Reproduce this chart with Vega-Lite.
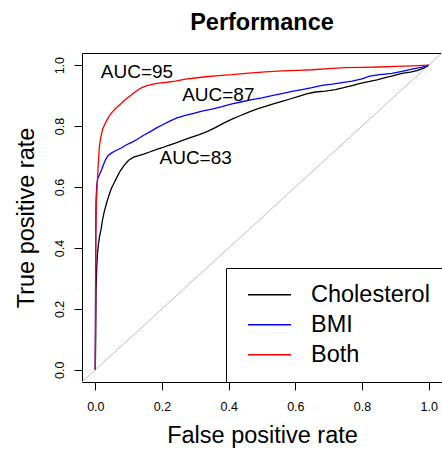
{
  "$schema": "https://vega.github.io/schema/vega-lite/v6.json",
  "width": 360,
  "height": 329,
  "autosize": {"type": "none"},
  "padding": {"left": 82, "top": 53, "right": 0, "bottom": 68},
  "background": "white",
  "title": {"text": "Performance", "fontSize": 23.5, "font": "Liberation Sans", "fontWeight": "bold", "baseline": "alphabetic", "offset": 0, "anchor": "middle", "color": "black"},
  "config": {"view": {"stroke": "black", "strokeWidth": 1}},
  "datasets": {
    "roc": [
      {"fpr": 0, "tpr": 0, "model": "Cholesterol"},
      {"fpr": 0.001, "tpr": 0.13, "model": "Cholesterol"},
      {"fpr": 0.002, "tpr": 0.26, "model": "Cholesterol"},
      {"fpr": 0.004, "tpr": 0.33, "model": "Cholesterol"},
      {"fpr": 0.006, "tpr": 0.375, "model": "Cholesterol"},
      {"fpr": 0.009, "tpr": 0.41, "model": "Cholesterol"},
      {"fpr": 0.013, "tpr": 0.44, "model": "Cholesterol"},
      {"fpr": 0.017, "tpr": 0.46, "model": "Cholesterol"},
      {"fpr": 0.022, "tpr": 0.495, "model": "Cholesterol"},
      {"fpr": 0.027, "tpr": 0.52, "model": "Cholesterol"},
      {"fpr": 0.033, "tpr": 0.545, "model": "Cholesterol"},
      {"fpr": 0.04, "tpr": 0.57, "model": "Cholesterol"},
      {"fpr": 0.048, "tpr": 0.595, "model": "Cholesterol"},
      {"fpr": 0.057, "tpr": 0.615, "model": "Cholesterol"},
      {"fpr": 0.066, "tpr": 0.635, "model": "Cholesterol"},
      {"fpr": 0.076, "tpr": 0.655, "model": "Cholesterol"},
      {"fpr": 0.087, "tpr": 0.672, "model": "Cholesterol"},
      {"fpr": 0.1, "tpr": 0.688, "model": "Cholesterol"},
      {"fpr": 0.115, "tpr": 0.698, "model": "Cholesterol"},
      {"fpr": 0.13, "tpr": 0.703, "model": "Cholesterol"},
      {"fpr": 0.145, "tpr": 0.708, "model": "Cholesterol"},
      {"fpr": 0.163, "tpr": 0.715, "model": "Cholesterol"},
      {"fpr": 0.18, "tpr": 0.722, "model": "Cholesterol"},
      {"fpr": 0.2, "tpr": 0.729, "model": "Cholesterol"},
      {"fpr": 0.22, "tpr": 0.737, "model": "Cholesterol"},
      {"fpr": 0.24, "tpr": 0.744, "model": "Cholesterol"},
      {"fpr": 0.26, "tpr": 0.752, "model": "Cholesterol"},
      {"fpr": 0.285, "tpr": 0.762, "model": "Cholesterol"},
      {"fpr": 0.31, "tpr": 0.771, "model": "Cholesterol"},
      {"fpr": 0.335, "tpr": 0.782, "model": "Cholesterol"},
      {"fpr": 0.36, "tpr": 0.795, "model": "Cholesterol"},
      {"fpr": 0.385, "tpr": 0.81, "model": "Cholesterol"},
      {"fpr": 0.41, "tpr": 0.823, "model": "Cholesterol"},
      {"fpr": 0.434, "tpr": 0.834, "model": "Cholesterol"},
      {"fpr": 0.46, "tpr": 0.846, "model": "Cholesterol"},
      {"fpr": 0.484, "tpr": 0.856, "model": "Cholesterol"},
      {"fpr": 0.51, "tpr": 0.865, "model": "Cholesterol"},
      {"fpr": 0.534, "tpr": 0.873, "model": "Cholesterol"},
      {"fpr": 0.56, "tpr": 0.881, "model": "Cholesterol"},
      {"fpr": 0.584, "tpr": 0.889, "model": "Cholesterol"},
      {"fpr": 0.61, "tpr": 0.898, "model": "Cholesterol"},
      {"fpr": 0.634, "tpr": 0.906, "model": "Cholesterol"},
      {"fpr": 0.66, "tpr": 0.912, "model": "Cholesterol"},
      {"fpr": 0.69, "tpr": 0.915, "model": "Cholesterol"},
      {"fpr": 0.72, "tpr": 0.92, "model": "Cholesterol"},
      {"fpr": 0.745, "tpr": 0.926, "model": "Cholesterol"},
      {"fpr": 0.77, "tpr": 0.933, "model": "Cholesterol"},
      {"fpr": 0.795, "tpr": 0.94, "model": "Cholesterol"},
      {"fpr": 0.82, "tpr": 0.946, "model": "Cholesterol"},
      {"fpr": 0.845, "tpr": 0.952, "model": "Cholesterol"},
      {"fpr": 0.87, "tpr": 0.959, "model": "Cholesterol"},
      {"fpr": 0.895, "tpr": 0.966, "model": "Cholesterol"},
      {"fpr": 0.92, "tpr": 0.973, "model": "Cholesterol"},
      {"fpr": 0.945, "tpr": 0.977, "model": "Cholesterol"},
      {"fpr": 0.965, "tpr": 0.982, "model": "Cholesterol"},
      {"fpr": 0.985, "tpr": 0.99, "model": "Cholesterol"},
      {"fpr": 1, "tpr": 1, "model": "Cholesterol"},
      {"fpr": 0, "tpr": 0, "model": "BMI"},
      {"fpr": 0.001, "tpr": 0.4, "model": "BMI"},
      {"fpr": 0.002, "tpr": 0.55, "model": "BMI"},
      {"fpr": 0.004, "tpr": 0.6, "model": "BMI"},
      {"fpr": 0.007, "tpr": 0.627, "model": "BMI"},
      {"fpr": 0.012, "tpr": 0.64, "model": "BMI"},
      {"fpr": 0.017, "tpr": 0.652, "model": "BMI"},
      {"fpr": 0.024, "tpr": 0.672, "model": "BMI"},
      {"fpr": 0.031, "tpr": 0.69, "model": "BMI"},
      {"fpr": 0.038, "tpr": 0.703, "model": "BMI"},
      {"fpr": 0.05, "tpr": 0.713, "model": "BMI"},
      {"fpr": 0.062, "tpr": 0.72, "model": "BMI"},
      {"fpr": 0.078, "tpr": 0.728, "model": "BMI"},
      {"fpr": 0.092, "tpr": 0.738, "model": "BMI"},
      {"fpr": 0.108, "tpr": 0.746, "model": "BMI"},
      {"fpr": 0.125, "tpr": 0.756, "model": "BMI"},
      {"fpr": 0.145, "tpr": 0.77, "model": "BMI"},
      {"fpr": 0.165, "tpr": 0.782, "model": "BMI"},
      {"fpr": 0.185, "tpr": 0.795, "model": "BMI"},
      {"fpr": 0.205, "tpr": 0.806, "model": "BMI"},
      {"fpr": 0.225, "tpr": 0.817, "model": "BMI"},
      {"fpr": 0.245, "tpr": 0.827, "model": "BMI"},
      {"fpr": 0.27, "tpr": 0.835, "model": "BMI"},
      {"fpr": 0.295, "tpr": 0.842, "model": "BMI"},
      {"fpr": 0.32, "tpr": 0.849, "model": "BMI"},
      {"fpr": 0.35, "tpr": 0.856, "model": "BMI"},
      {"fpr": 0.38, "tpr": 0.864, "model": "BMI"},
      {"fpr": 0.41, "tpr": 0.873, "model": "BMI"},
      {"fpr": 0.44, "tpr": 0.88, "model": "BMI"},
      {"fpr": 0.47, "tpr": 0.887, "model": "BMI"},
      {"fpr": 0.5, "tpr": 0.893, "model": "BMI"},
      {"fpr": 0.53, "tpr": 0.9, "model": "BMI"},
      {"fpr": 0.56, "tpr": 0.907, "model": "BMI"},
      {"fpr": 0.59, "tpr": 0.914, "model": "BMI"},
      {"fpr": 0.62, "tpr": 0.92, "model": "BMI"},
      {"fpr": 0.65, "tpr": 0.926, "model": "BMI"},
      {"fpr": 0.68, "tpr": 0.934, "model": "BMI"},
      {"fpr": 0.71, "tpr": 0.938, "model": "BMI"},
      {"fpr": 0.74, "tpr": 0.943, "model": "BMI"},
      {"fpr": 0.77, "tpr": 0.948, "model": "BMI"},
      {"fpr": 0.8, "tpr": 0.955, "model": "BMI"},
      {"fpr": 0.823, "tpr": 0.964, "model": "BMI"},
      {"fpr": 0.853, "tpr": 0.969, "model": "BMI"},
      {"fpr": 0.89, "tpr": 0.973, "model": "BMI"},
      {"fpr": 0.92, "tpr": 0.98, "model": "BMI"},
      {"fpr": 0.95, "tpr": 0.987, "model": "BMI"},
      {"fpr": 0.98, "tpr": 0.994, "model": "BMI"},
      {"fpr": 1, "tpr": 1, "model": "BMI"},
      {"fpr": 0, "tpr": 0, "model": "Both"},
      {"fpr": 0.0015, "tpr": 0.45, "model": "Both"},
      {"fpr": 0.003, "tpr": 0.55, "model": "Both"},
      {"fpr": 0.006, "tpr": 0.62, "model": "Both"},
      {"fpr": 0.009, "tpr": 0.68, "model": "Both"},
      {"fpr": 0.012, "tpr": 0.73, "model": "Both"},
      {"fpr": 0.016, "tpr": 0.762, "model": "Both"},
      {"fpr": 0.022, "tpr": 0.79, "model": "Both"},
      {"fpr": 0.03, "tpr": 0.81, "model": "Both"},
      {"fpr": 0.04, "tpr": 0.83, "model": "Both"},
      {"fpr": 0.05, "tpr": 0.845, "model": "Both"},
      {"fpr": 0.063, "tpr": 0.86, "model": "Both"},
      {"fpr": 0.075, "tpr": 0.872, "model": "Both"},
      {"fpr": 0.09, "tpr": 0.887, "model": "Both"},
      {"fpr": 0.105, "tpr": 0.9, "model": "Both"},
      {"fpr": 0.12, "tpr": 0.913, "model": "Both"},
      {"fpr": 0.135, "tpr": 0.924, "model": "Both"},
      {"fpr": 0.152, "tpr": 0.932, "model": "Both"},
      {"fpr": 0.17, "tpr": 0.937, "model": "Both"},
      {"fpr": 0.19, "tpr": 0.941, "model": "Both"},
      {"fpr": 0.215, "tpr": 0.944, "model": "Both"},
      {"fpr": 0.24, "tpr": 0.948, "model": "Both"},
      {"fpr": 0.27, "tpr": 0.954, "model": "Both"},
      {"fpr": 0.3, "tpr": 0.958, "model": "Both"},
      {"fpr": 0.33, "tpr": 0.962, "model": "Both"},
      {"fpr": 0.37, "tpr": 0.966, "model": "Both"},
      {"fpr": 0.41, "tpr": 0.969, "model": "Both"},
      {"fpr": 0.46, "tpr": 0.974, "model": "Both"},
      {"fpr": 0.51, "tpr": 0.978, "model": "Both"},
      {"fpr": 0.56, "tpr": 0.981, "model": "Both"},
      {"fpr": 0.61, "tpr": 0.983, "model": "Both"},
      {"fpr": 0.65, "tpr": 0.985, "model": "Both"},
      {"fpr": 0.7, "tpr": 0.989, "model": "Both"},
      {"fpr": 0.75, "tpr": 0.992, "model": "Both"},
      {"fpr": 0.8, "tpr": 0.993, "model": "Both"},
      {"fpr": 0.85, "tpr": 0.994, "model": "Both"},
      {"fpr": 0.9, "tpr": 0.996, "model": "Both"},
      {"fpr": 0.95, "tpr": 0.998, "model": "Both"},
      {"fpr": 1, "tpr": 1, "model": "Both"}
    ],
    "diag": [
      {"fpr": -0.04, "tpr": -0.04},
      {"fpr": 1.04, "tpr": 1.04}
    ],
    "labels": [
      {"fpr": 0.125, "tpr": 0.979, "text": "AUC=95"},
      {"fpr": 0.369, "tpr": 0.902, "text": "AUC=87"},
      {"fpr": 0.301, "tpr": 0.694, "text": "AUC=83"}
    ]
  },
  "encoding": {
    "x": {
      "field": "fpr", "type": "quantitative",
      "scale": {"domain": [-0.04, 1.04], "nice": false, "zero": false},
      "axis": {
        "title": "False positive rate", "values": [0, 0.2, 0.4, 0.6, 0.8, 1], "format": ".1f",
        "grid": false, "domain": false, "tickSize": 8, "tickColor": "black", "labelFlush": false,
        "labelFontSize": 12.5, "labelFont": "Liberation Sans", "labelColor": "black",
        "labelBaseline": "alphabetic", "labelPadding": 20,
        "titleFontSize": 23.5, "titleFont": "Liberation Sans", "titleFontWeight": "normal", "titleColor": "black",
        "titleBaseline": "alphabetic", "titleY": 60
      }
    },
    "y": {
      "field": "tpr", "type": "quantitative",
      "scale": {"domain": [-0.04, 1.04], "nice": false, "zero": false},
      "axis": {
        "title": "True positive rate", "values": [0, 0.2, 0.4, 0.6, 0.8, 1], "format": ".1f",
        "grid": false, "domain": false, "tickSize": 8, "tickColor": "black", "labelFlush": false,
        "labelFontSize": 12.5, "labelFont": "Liberation Sans", "labelColor": "black",
        "labelAngle": 270, "labelAlign": "center", "labelBaseline": "alphabetic", "labelPadding": 11,
        "titleFontSize": 23.5, "titleFont": "Liberation Sans", "titleFontWeight": "normal", "titleColor": "black",
        "titleAngle": 270, "titleBaseline": "alphabetic", "titleX": -49
      }
    }
  },
  "layer": [
    {
      "data": {"name": "diag"},
      "mark": {"type": "line", "color": "#BEBEBE", "strokeWidth": 1, "clip": true}
    },
    {
      "data": {"name": "roc"},
      "mark": {"type": "line", "strokeWidth": 1.3, "interpolate": "linear"},
      "encoding": {
        "color": {
          "field": "model", "type": "nominal",
          "scale": {"domain": ["Cholesterol", "BMI", "Both"], "range": ["black", "blue", "red"]},
          "legend": {
            "title": null, "orient": "bottom-right", "offset": 0,
            "strokeColor": "black", "fillColor": "white", "padding": 12,
            "symbolType": "stroke", "symbolSize": 1849, "symbolStrokeWidth": 1.5,
            "clipHeight": 29.5, "rowPadding": 0, "symbolOffset": 9, "labelOffset": 19,
            "labelFontSize": 23.5, "labelFont": "Liberation Sans", "labelColor": "black"
          }
        }
      }
    },
    {
      "data": {"name": "labels"},
      "mark": {"type": "text", "fontSize": 19, "font": "Liberation Sans", "color": "black", "baseline": "middle", "align": "center"},
      "encoding": {"text": {"field": "text"}}
    }
  ]
}
